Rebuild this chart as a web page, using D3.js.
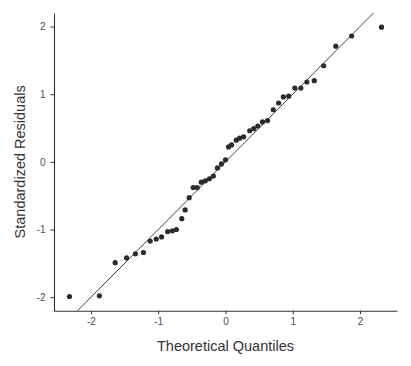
<!DOCTYPE html>
<html>
<head>
<meta charset="utf-8">
<script src="https://cdn.jsdelivr.net/npm/d3@7"></script>
<style>
  body { margin: 0; background: #fff; }
  svg text { font-family: "Liberation Sans", Arial, sans-serif; }
</style>
</head>
<body>
<div id="chart"></div>
<script>
// theoretical quantiles and standardized residuals
var theoretical = [-2.32, -1.875, -1.64, -1.47, -1.34, -1.22, -1.12, -1.03, -0.95, -0.86,
  -0.79, -0.73, -0.65, -0.60, -0.54, -0.48, -0.42, -0.36, -0.30, -0.24,
  -0.18, -0.12, -0.06, 0.0, 0.045, 0.09, 0.16, 0.21, 0.27, 0.36,
  0.42, 0.48, 0.55, 0.625, 0.71, 0.79, 0.86, 0.94, 1.03, 1.12,
  1.21, 1.32, 1.46, 1.64, 1.875, 2.32];
var residuals = [-1.99, -1.98, -1.49, -1.42, -1.36, -1.34, -1.17, -1.14, -1.11, -1.03,
  -1.02, -1.00, -0.84, -0.71, -0.53, -0.38, -0.38, -0.30, -0.28, -0.25,
  -0.21, -0.09, -0.03, 0.03, 0.22, 0.25, 0.32, 0.35, 0.37, 0.46,
  0.49, 0.53, 0.59, 0.61, 0.77, 0.87, 0.96, 0.97, 1.09, 1.09,
  1.18, 1.20, 1.42, 1.71, 1.86, 1.99];
var xTicks = [-2, -1, 0, 1, 2];
var yTicks = [-2, -1, 0, 1, 2];
// reference line
var qqIntercept = 0.0;
var qqSlope = 1.0;

var svgWidth = 411;
var svgHeight = 366;

var svg = d3.select("#chart")
  .append("svg")
  .attr("width", svgWidth)
  .attr("height", svgHeight);

var x = d3.scaleLinear()
  .domain([-2.55, 2.55])
  .range([54, 397]);

var y = d3.scaleLinear()
  .domain([-2.2, 2.2])
  .range([310.7, 13]);

// clip for the reference line
svg.append("clipPath")
  .attr("id", "panel")
  .append("rect")
  .attr("x", x.range()[0])
  .attr("y", y.range()[1])
  .attr("width", x.range()[1] - x.range()[0])
  .attr("height", y.range()[0] - y.range()[1]);

// qq line
var lineX = x.domain();
svg.append("line")
  .attr("clip-path", "url(#panel)")
  .attr("x1", x(lineX[0]))
  .attr("y1", y(qqIntercept + qqSlope * lineX[0]))
  .attr("x2", x(lineX[1]))
  .attr("y2", y(qqIntercept + qqSlope * lineX[1]))
  .attr("stroke", "#444")
  .attr("stroke-width", 1);

// points
var points = theoretical.map(function(t, i) { return { t: t, r: residuals[i] }; });
svg.append("g")
  .selectAll("circle")
  .data(points)
  .enter()
  .append("circle")
  .attr("cx", d => x(d.t))
  .attr("cy", d => y(d.r))
  .attr("r", 2.6)
  .attr("fill", "#2b2b2b");

// axes (plain hyphen minus, integer labels)
var fmt = d => String(d);
var bottomAxis = d3.axisBottom(x).tickValues(xTicks).tickFormat(fmt).tickSize(3.5).tickPadding(4).tickSizeOuter(0);
var leftAxis = d3.axisLeft(y).tickValues(yTicks).tickFormat(fmt).tickSize(3.5).tickPadding(5).tickSizeOuter(0);

var xAxis = svg.append("g")
  .attr("transform", `translate(0, ${y.range()[0]})`)
  .call(bottomAxis);

var yAxis = svg.append("g")
  .attr("transform", `translate(${x.range()[0]}, 0)`)
  .call(leftAxis);

[xAxis, yAxis].forEach(function(a) {
  a.select(".domain").attr("stroke", "#333").attr("stroke-width", 1.1);
  a.selectAll(".tick line").attr("stroke", "#333");
  a.selectAll(".tick text")
    .attr("fill", "#4d4d4d")
    .style("font-size", "10px");
});

// axis titles
svg.append("text")
  .attr("x", (x.range()[0] + x.range()[1]) / 2)
  .attr("y", 351)
  .attr("text-anchor", "middle")
  .attr("fill", "#333")
  .style("font-size", "14.5px")
  .text("Theoretical Quantiles");

svg.append("text")
  .attr("transform", `translate(25, ${(y.range()[0] + y.range()[1]) / 2}) rotate(-90)`)
  .attr("text-anchor", "middle")
  .attr("fill", "#333")
  .style("font-size", "14.5px")
  .text("Standardized Residuals");
</script>
</body>
</html>
